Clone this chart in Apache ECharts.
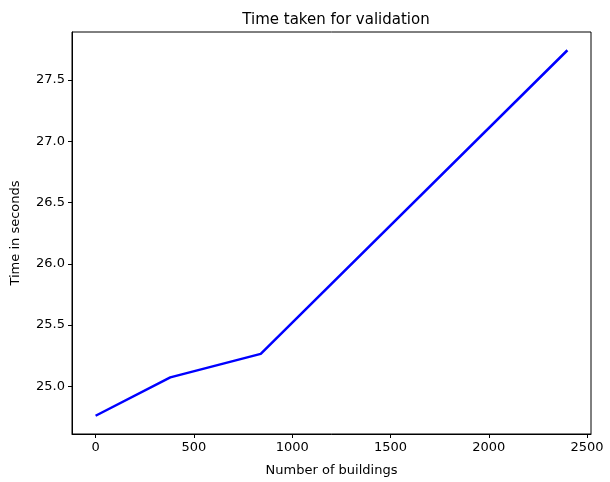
<!DOCTYPE html>
<html><head><meta charset="utf-8">
<script src="https://cdn.jsdelivr.net/npm/echarts@6/dist/echarts.min.js"></script>
<style>html,body{margin:0;padding:0;background:#fff}#c{width:610px;height:482px}</style>
</head><body><div id="c"></div>
<script>
const buildings = [0, 380, 840, 2400];
const seconds = [24.76, 25.073, 25.265, 27.743];
const xTicks = [0, 500, 1000, 1500, 2000, 2500];
const yTicks = [25.0, 25.5, 26.0, 26.5, 27.0, 27.5];

const font = 'DejaVu Sans';
const chart = echarts.init(document.getElementById('c'));
chart.setOption({
  animation: false,
  title: {text: 'Time taken for validation', left: 331, top: 8, textAlign: 'center',
    textStyle: {fontFamily: font, fontSize: 15, fontWeight: 'normal', color: '#000'}},
  grid: {left: 72, right: 19, top: 32, bottom: 46, show: true, borderColor: '#000', borderWidth: 1, backgroundColor: '#fff'},
  xAxis: {type: 'value', min: -120, max: 2520,
    name: 'Number of buildings', nameLocation: 'middle', nameGap: 30,
    nameTextStyle: {fontFamily: font, fontSize: 13, color: '#000'},
    axisLine: {show: true, onZero: false, lineStyle: {color: '#000'}},
    axisTick: {show: true, customValues: xTicks, length: 4, lineStyle: {color: '#000'}},
    axisLabel: {customValues: xTicks, fontFamily: font, fontSize: 13, color: '#000', margin: 7,
      formatter: v => String(v)},
    splitLine: {show: false}},
  yAxis: {type: 'value', min: 24.611, max: 27.892,
    name: 'Time in seconds', nameLocation: 'middle', nameGap: 50, nameRotate: 90,
    nameTextStyle: {fontFamily: font, fontSize: 13, color: '#000'},
    axisLine: {show: true, onZero: false, lineStyle: {color: '#000'}},
    axisTick: {show: true, customValues: yTicks, length: 4, lineStyle: {color: '#000'}},
    axisLabel: {customValues: yTicks, fontFamily: font, fontSize: 13, color: '#000', margin: 7,
      formatter: v => v.toFixed(1)},
    splitLine: {show: false}},
  series: [{type: 'line', data: buildings.map((b, i) => [b, seconds[i]]),
    symbol: 'none', lineStyle: {color: '#0000ff', width: 2.5}}]
});
</script></body></html>
